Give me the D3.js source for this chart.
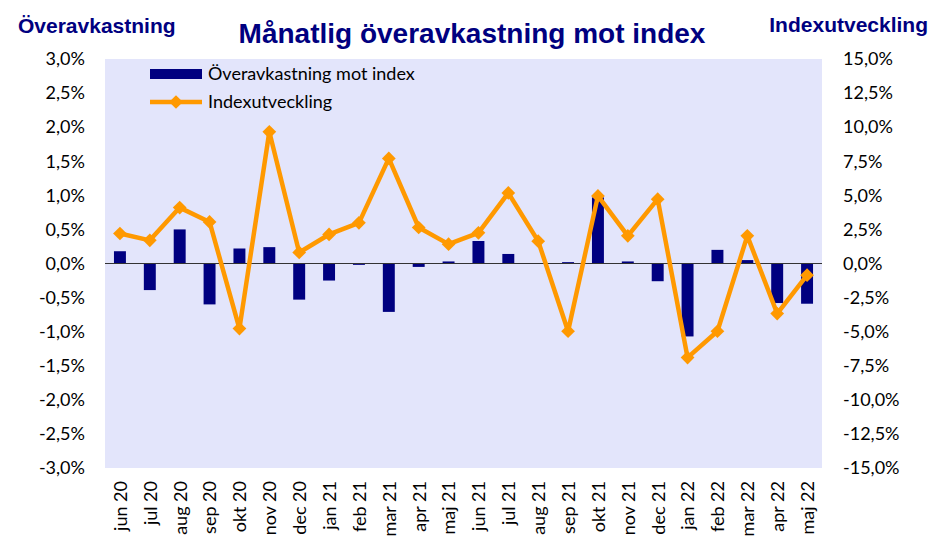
<!DOCTYPE html>
<html>
<head>
<meta charset="utf-8">
<script src="https://cdn.jsdelivr.net/npm/d3@7"></script>
<style>
  body { margin: 0; background: #fff; }
  svg { display: block; }
</style>
</head>
<body>
<div id="chart"></div>
<script>
// months on the x axis
const months = ["jun 20", "jul 20", "aug 20", "sep 20", "okt 20", "nov 20", "dec 20",
  "jan 21", "feb 21", "mar 21", "apr 21", "maj 21", "jun 21", "jul 21", "aug 21",
  "sep 21", "okt 21", "nov 21", "dec 21", "jan 22", "feb 22", "mar 22", "apr 22", "maj 22"];

// överavkastning mot index, % (left axis)
const excess = [0.18, -0.39, 0.50, -0.60, 0.22, 0.24, -0.53, -0.25, -0.02, -0.71, -0.05, 0.03,
  0.33, 0.14, 0.00, 0.02, 0.97, 0.03, -0.26, -1.07, 0.20, 0.05, -0.58, -0.59];

// indexutveckling, % (right axis)
const indexDev = [2.2, 1.7, 4.1, 3.05, -4.77, 9.66, 0.81, 2.13, 2.98, 7.71, 2.64, 1.42,
  2.25, 5.18, 1.64, -4.97, 4.96, 2.03, 4.72, -6.9, -4.97, 2.03, -3.67, -0.86];

const leftTicks = [3, 2.5, 2, 1.5, 1, 0.5, 0, -0.5, -1, -1.5, -2, -2.5, -3];
const rightTicks = [15, 12.5, 10, 7.5, 5, 2.5, 0, -2.5, -5, -7.5, -10, -12.5, -15];

const W = 934, H = 540;
const m = {top: 59, right: 112, bottom: 72, left: 105};
const w = W - m.left - m.right, h = H - m.top - m.bottom;

const navy = "#000080", orange = "#ff9900";
const pctFmt = v => v.toFixed(1).replace(".", ",") + "%";

const svg = d3.select("#chart").append("svg")
  .attr("width", W).attr("height", H);

const g = svg.append("g").attr("transform", `translate(${m.left},${m.top})`);

const x = d3.scaleBand().domain(months).range([0, w]).paddingInner(0.6).paddingOuter(0.3);
const xc = d3.scalePoint().domain(months).range([0, w]).padding(0.5);
const yL = d3.scaleLinear().domain([-3, 3]).range([h, 0]);
const yR = d3.scaleLinear().domain([-15, 15]).range([h, 0]);

// plot background
g.append("rect").attr("width", w).attr("height", h).attr("fill", "#e3e5fb");

// bars
g.append("g").selectAll("rect")
  .data(excess)
  .enter().append("rect")
    .attr("x", (d, i) => xc(months[i]) - x.bandwidth() / 2)
    .attr("y", d => yL(Math.max(0, d)))
    .attr("width", x.bandwidth())
    .attr("height", d => Math.abs(yL(d) - yL(0)))
    .attr("fill", navy);

// zero line
g.append("line")
  .attr("x1", 0).attr("x2", w)
  .attr("y1", yL(0)).attr("y2", yL(0))
  .attr("stroke", "#333").attr("stroke-width", 1);

// index line
const line = d3.line().x((d, i) => xc(months[i])).y(d => yR(d));
g.append("path")
  .datum(indexDev)
  .attr("d", line)
  .attr("fill", "none")
  .attr("stroke", orange)
  .attr("stroke-width", 4.5)
  .attr("stroke-linejoin", "round");

const diamond = d3.symbol().type(d3.symbolDiamond2).size(120);
g.append("g").selectAll("path")
  .data(indexDev)
  .enter().append("path")
    .attr("d", diamond)
    .attr("transform", (d, i) => `translate(${xc(months[i])},${yR(d)})`)
    .attr("fill", orange);

// axes
const tickFont = "Lato, 'Open Sans', sans-serif";
const axL = g.append("g")
  .call(d3.axisLeft(yL).tickValues(leftTicks).tickFormat(pctFmt).tickSize(0).tickPadding(20));
const axR = g.append("g").attr("transform", `translate(${w},0)`)
  .call(d3.axisRight(yR).tickValues(rightTicks).tickFormat(pctFmt).tickSize(0).tickPadding(21));
const axB = g.append("g").attr("transform", `translate(0,${h})`)
  .call(d3.axisBottom(xc).tickSize(0).tickPadding(0));

[axL, axR, axB].forEach(a => {
  a.select(".domain").remove();
  a.selectAll("text").style("font-family", tickFont).style("font-size", "18px").attr("fill", "#000");
});
axB.selectAll("text")
  .attr("transform", "rotate(-90)")
  .attr("x", -13).attr("y", 0).attr("dy", "0.35em")
  .style("text-anchor", "end");

// titles
const titleFont = "'Liberation Sans', Arial, sans-serif";
svg.append("text")
  .attr("x", 472).attr("y", 43)
  .attr("text-anchor", "middle")
  .style("font-family", titleFont)
  .style("font-weight", "bold").style("font-size", "28px")
  .attr("fill", navy)
  .text("Månatlig överavkastning mot index");

svg.append("text")
  .attr("x", 18).attr("y", 33)
  .style("font-family", titleFont)
  .style("font-weight", "bold").style("font-size", "21px")
  .attr("fill", navy)
  .text("Överavkastning");

svg.append("text")
  .attr("x", 928).attr("y", 32)
  .attr("text-anchor", "end")
  .style("font-family", titleFont)
  .style("font-weight", "bold").style("font-size", "21px")
  .attr("fill", navy)
  .text("Indexutveckling");

// legend
const leg = g.append("g").attr("transform", "translate(45,15)");
leg.append("rect").attr("x", 0).attr("y", -5).attr("width", 52).attr("height", 10).attr("fill", navy);
leg.append("text").attr("x", 58).attr("y", 0).attr("dy", "0.35em")
  .style("font-family", tickFont).style("font-size", "18px").text("Överavkastning mot index");
leg.append("line").attr("x1", 0).attr("x2", 52).attr("y1", 28).attr("y2", 28)
  .attr("stroke", orange).attr("stroke-width", 4.5);
leg.append("path").attr("d", diamond).attr("transform", "translate(26,28)").attr("fill", orange);
leg.append("text").attr("x", 58).attr("y", 28).attr("dy", "0.35em")
  .style("font-family", tickFont).style("font-size", "18px").text("Indexutveckling");
</script>
</body>
</html>
